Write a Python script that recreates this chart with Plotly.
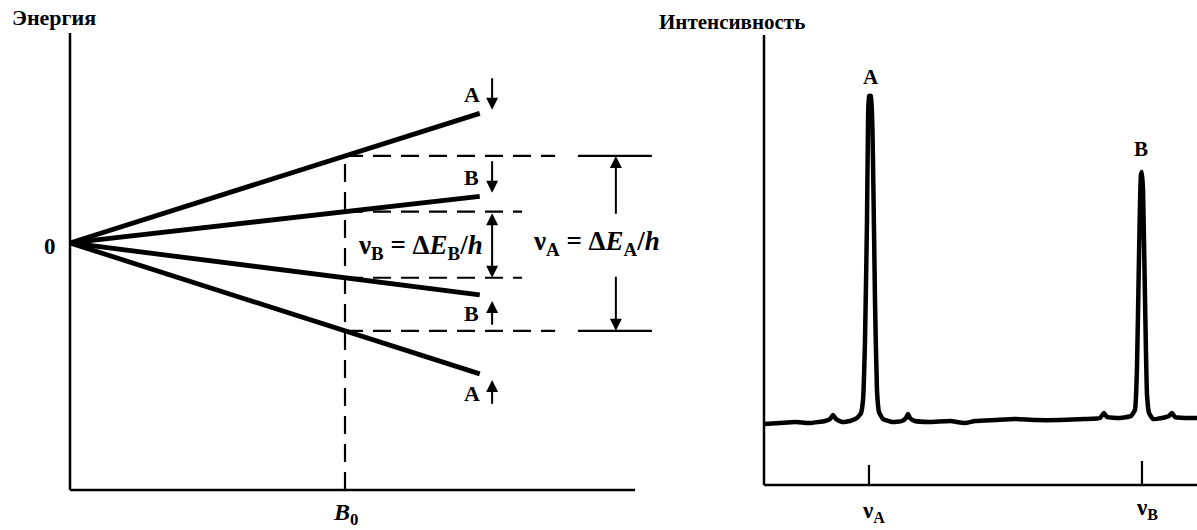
import plotly.graph_objects as go

W, H = 1197, 530
SERIF = "Liberation Serif, Times New Roman, serif"

# ---------------- Zeeman splitting diagram (left) ----------------
field_B0 = 1.0            # field at which the transitions are marked
field_end = 1.49          # where the level lines stop
field_axis_end = 2.055
energy_axis_top = 2.414
energy_axis_bottom = -2.84
level_names = ["A", "B", "B", "A"]
level_slopes = [1.00, 0.36, -0.40, -1.01]      # energy per unit field
level_spin = ["down", "down", "up", "up"]
dash_end = {"A": 1.764, "B": 1.644}             # end of dashed guide lines
bracket_span = (1.847, 2.116)                   # solid guide for nu_A bracket
bracket_x = 1.985
nuB_arrow_x = 1.535

# ---------------- NMR spectrum (right) ----------------
nu_A = 1.0
nu_B = 3.6
freq_axis_end = 4.2
intensity_axis_top = 4.5
tick_heights = [0.20, 0.24]
spectrum_nu = [0.000, 0.152, 0.295, 0.438, 0.581, 0.629, 0.657, 0.686, 0.743,
               0.819, 0.886, 0.924, 0.943, 0.962, 0.981, 0.990, 1.000, 1.019,
               1.038, 1.057, 1.076, 1.095, 1.133, 1.219, 1.314, 1.352, 1.371,
               1.390, 1.438, 1.581, 1.771, 1.914, 2.010, 2.200, 2.390, 2.581,
               2.819, 3.057, 3.200, 3.238, 3.267, 3.390, 3.495, 3.533, 3.552,
               3.571, 3.590, 3.600, 3.610, 3.629, 3.648, 3.667, 3.705, 3.790,
               3.857, 3.886, 3.914, 4.010, 4.124]
spectrum_I = [0.61, 0.62, 0.63, 0.62, 0.64, 0.66, 0.70, 0.66, 0.63,
              0.64, 0.67, 0.72, 0.85, 1.45, 2.65, 3.55, 3.89, 3.89,
              3.25, 1.85, 0.95, 0.73, 0.66, 0.63, 0.64, 0.67, 0.71,
              0.67, 0.64, 0.63, 0.64, 0.62, 0.64, 0.65, 0.66, 0.65,
              0.65, 0.66, 0.67, 0.72, 0.68, 0.67, 0.69, 0.75, 1.15,
              2.25, 3.10, 3.13, 2.95, 1.85, 0.90, 0.72, 0.66, 0.67,
              0.69, 0.72, 0.68, 0.67, 0.67]

fig = go.Figure()
ink = "black"


def seg(x, y, width, dash="solid", axes=("x", "y")):
    fig.add_trace(go.Scatter(x=x, y=y, mode="lines", xaxis=axes[0], yaxis=axes[1],
                             line=dict(color=ink, width=width, dash=dash),
                             hoverinfo="skip", showlegend=False))


# axes of the energy diagram
seg([0, 0], [energy_axis_bottom, energy_axis_top], 2.5)
seg([0, field_axis_end], [energy_axis_bottom, energy_axis_bottom], 2.5)

# energy levels E = slope * B
for s in level_slopes:
    seg([0, field_end], [0, s * field_end], 4.8)

level_at_B0 = [s * field_B0 for s in level_slopes]
dash_pat = "18px,10px"
seg([field_B0, field_B0], [energy_axis_bottom, level_at_B0[0]], 2.2, dash_pat)
for name, e in zip(level_names, level_at_B0):
    seg([field_B0, dash_end[name]], [e, e], 2.2, dash_pat)
    if name == "A":
        seg(list(bracket_span), [e, e], 2.2)

ann = []


def text(x, y, s, size, xref="x", yref="y", **kw):
    kw.setdefault("xanchor", "center")
    kw.setdefault("yanchor", "middle")
    ann.append(dict(x=x, y=y, xref=xref, yref=yref, text=s, showarrow=False,
                    font=dict(family=SERIF, size=size, color=ink), **kw))


def arrow(x, y_tail, y_head, xref="x", yref="y", both=False, size=1.2):
    ann.append(dict(x=x, y=y_head, ax=x, ay=y_tail, xref=xref, yref=yref,
                    axref=xref, ayref=yref, text="", showarrow=True,
                    arrowhead=2, arrowsize=size, arrowwidth=2, arrowcolor=ink,
                    arrowside="end+start" if both else "end",
                    standoff=0, startstandoff=0))


# level labels and spin arrows
for name, s, spin in zip(level_names, level_slopes, level_spin):
    e_end = s * field_end
    if spin == "down":
        text(field_end - 0.03, e_end + 0.22, f"<b>{name}</b>", 22)
        arrow(field_end + 0.045, e_end + 0.42, e_end + 0.04)
    else:
        text(field_end - 0.03, e_end - 0.22, f"<b>{name}</b>", 22)
        arrow(field_end + 0.045, e_end - 0.36, e_end - 0.07)

# transition arrows
arrow(nuB_arrow_x, level_at_B0[1], level_at_B0[2], both=True)
arrow(bracket_x, 0.32, level_at_B0[0])
arrow(bracket_x, -0.37, level_at_B0[3])

text(1.273, -0.05, "<b>ν<sub>B</sub> = Δ<i>E</i><sub>B</sub>/<i>h</i></b>", 27)
text(1.913, 0.0, "<b>ν<sub>A</sub> = Δ<i>E</i><sub>A</sub>/<i>h</i></b>", 27)
text(0, 0, "<b>0</b>", 23, xanchor="right", xshift=-12, yshift=-4)
text(field_B0, energy_axis_bottom, "<b><i>B</i><sub>0</sub></b>", 24,
     yshift=-24)
text(54 / W, 1 - 18 / H, "<b>Энергия</b>", 22, xref="paper", yref="paper")

# spectrum axes, ticks and trace
ax2 = ("x2", "y2")
seg([0, 0], [0, intensity_axis_top], 2.5, axes=ax2)
seg([0, freq_axis_end], [0, 0], 2.5, axes=ax2)
for nu, h in zip([nu_A, nu_B], tick_heights):
    seg([nu, nu], [0, h], 2.2, axes=ax2)
fig.add_trace(go.Scatter(x=spectrum_nu, y=spectrum_I, mode="lines",
                         xaxis="x2", yaxis="y2",
                         line=dict(color=ink, width=4.5, shape="spline", smoothing=0.4),
                         hoverinfo="skip", showlegend=False))

text(nu_A + 0.02, 4.08, "<b>A</b>", 21, xref="x2", yref="y2")
text(nu_B - 0.01, 3.36, "<b>B</b>", 21, xref="x2", yref="y2")
text(nu_A + 0.04, 0, "<b>ν<sub>A</sub></b>", 23, xref="x2", yref="y2", yshift=-27)
text(nu_B + 0.05, 0, "<b>ν<sub>B</sub></b>", 23, xref="x2", yref="y2", yshift=-24)
text(732 / W, 1 - 22 / H, "<b>Интенсивность</b>", 21, xref="paper", yref="paper")

hidden = dict(visible=False, showgrid=False, zeroline=False, fixedrange=True)
fig.update_layout(
    width=W, height=H,
    margin=dict(l=0, r=0, t=0, b=0),
    paper_bgcolor="white", plot_bgcolor="white",
    xaxis=dict(domain=[59 / W, 680.5 / W], range=[-0.04, 2.22], **hidden),
    yaxis=dict(domain=[1 - 497.0 / H, 1 - 24.6 / H], range=[-2.92, 2.51], **hidden),
    xaxis2=dict(domain=[754.55 / W, 1.0], range=[-0.09, 4.124], anchor="y2", **hidden),
    yaxis2=dict(domain=[1 - 492 / H, 1 - 28 / H], range=[-0.07, 4.57], anchor="x2", **hidden),
    annotations=ann,
)

fig.write_html("out.html")
